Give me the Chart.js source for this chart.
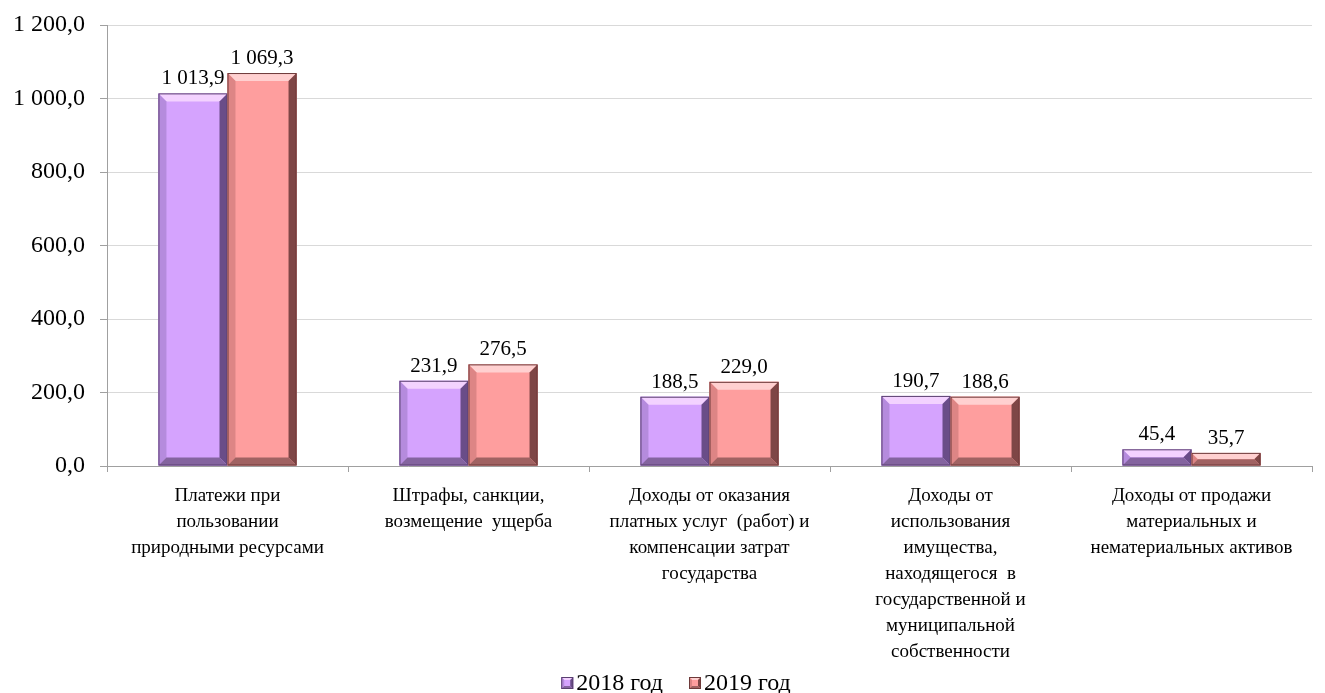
<!DOCTYPE html>
<html><head><meta charset="utf-8">
<script src="https://cdn.jsdelivr.net/npm/chart.js@4.4.0/dist/chart.umd.min.js"></script>
<style>html,body{margin:0;padding:0;background:#fff;}#wrap{width:1325px;height:693px;position:relative;}</style>
</head><body><div id="wrap"><canvas id="c" width="1325" height="693"></canvas></div>
<script>
const categories = [
  ["Платежи при", "пользовании", "природными ресурсами"],
  ["Штрафы, санкции,", "возмещение  ущерба"],
  ["Доходы от оказания", "платных услуг  (работ) и", "компенсации затрат", "государства"],
  ["Доходы от", "использования", "имущества,", "находящегося  в", "государственной и", "муниципальной", "собственности"],
  ["Доходы от продажи", "материальных и", "нематериальных активов"]
];
const seriesNames = ["2018 год", "2019 год"];
const values2018 = [1013.9, 231.9, 188.5, 190.7, 45.4];
const values2019 = [1069.3, 276.5, 229.0, 188.6, 35.7];
const yTicks = [0, 200, 400, 600, 800, 1000, 1200];

const FONT = "'Liberation Serif', 'Times New Roman', serif";
const faces = ["#D5A3FE", "#FE9E9E"];
const bevels = [
  {top:"#F3D2FF", left:"#B58BDD", right:"#6A4D88", bottom:"#84649F", edge:"#5A4070"},
  {top:"#FFD0D0", left:"#DD8585", right:"#7E4646", bottom:"#A06262", edge:"#6E3A3A"}
];

function fmt(v){
  const s = v.toFixed(1).split(".");
  const intp = s[0].replace(/\B(?=(\d{3})+(?!\d))/g, " ");
  return intp + "," + s[1];
}

function bevelRect(ctx, l, t, w, h, bc, face, bwMax){
  const r = l + w, b = t + h;
  const bw = Math.min(bwMax, h/2, w/2);
  ctx.save();
  ctx.fillStyle = face; ctx.fillRect(l, t, w, h);
  ctx.fillStyle = bc.top;
  ctx.beginPath(); ctx.moveTo(l,t); ctx.lineTo(r,t); ctx.lineTo(r-bw,t+bw); ctx.lineTo(l+bw,t+bw); ctx.closePath(); ctx.fill();
  ctx.fillStyle = bc.left;
  ctx.beginPath(); ctx.moveTo(l,t); ctx.lineTo(l+bw,t+bw); ctx.lineTo(l+bw,b-bw); ctx.lineTo(l,b); ctx.closePath(); ctx.fill();
  ctx.fillStyle = bc.right;
  ctx.beginPath(); ctx.moveTo(r,t); ctx.lineTo(r-bw,t+bw); ctx.lineTo(r-bw,b-bw); ctx.lineTo(r,b); ctx.closePath(); ctx.fill();
  ctx.fillStyle = bc.bottom;
  ctx.beginPath(); ctx.moveTo(l,b); ctx.lineTo(l+bw,b-bw); ctx.lineTo(r-bw,b-bw); ctx.lineTo(r,b); ctx.closePath(); ctx.fill();
  ctx.strokeStyle = bc.edge; ctx.lineWidth = 1;
  ctx.strokeRect(l+0.5, t+0.5, w-1, h-1);
  ctx.restore();
}

const bevelPlugin = {
  id: "bevel",
  afterDatasetsDraw(chart){
    const ctx = chart.ctx;
    chart.data.datasets.forEach((ds, di) => {
      const meta = chart.getDatasetMeta(di);
      meta.data.forEach(el => {
        const p = el.getProps(["x","y","base","width"], true);
        bevelRect(ctx, p.x - p.width/2, p.y, p.width, p.base - p.y, bevels[di], faces[di], 8);
      });
    });
  },
  afterDraw(chart){
    const ctx = chart.ctx;
    ctx.save();
    ctx.font = "21px " + FONT;
    ctx.fillStyle = "#000";
    ctx.textAlign = "center";
    ctx.textBaseline = "alphabetic";
    chart.data.datasets.forEach((ds, di) => {
      const meta = chart.getDatasetMeta(di);
      meta.data.forEach((el, i) => {
        const p = el.getProps(["x","y"], true);
        ctx.fillText(fmt(ds.data[i]), p.x, p.y - 9);
      });
    });
    // legend
    ctx.font = "24px " + FONT;
    ctx.textAlign = "left";
    ctx.textBaseline = "middle";
    const box = 12, gapBox = 3, gapItem = 26;
    const widths = chart.data.datasets.map(d => ctx.measureText(d.label).width);
    const total = widths.reduce((a, w) => a + box + gapBox + w, 0) + gapItem * (widths.length - 1);
    let x = 676 - total / 2;
    const cy = 683;
    chart.data.datasets.forEach((d, i) => {
      bevelRect(ctx, x, cy - box/2, box, box, bevels[i], faces[i], 3);
      x += box + gapBox;
      ctx.fillStyle = "#000";
      ctx.fillText(d.label, x, cy + 1);
      x += widths[i] + gapItem;
    });
    ctx.restore();
  }
};

new Chart(document.getElementById("c"), {
  type: "bar",
  data: {
    labels: categories,
    datasets: [
      {label: seriesNames[0], data: values2018, backgroundColor: faces[0], borderWidth: 0},
      {label: seriesNames[1], data: values2019, backgroundColor: faces[1], borderWidth: 0}
    ]
  },
  options: {
    responsive: false,
    animation: false,
    devicePixelRatio: 1,
    layout: {padding: {top: 25, right: 13, left: 0, bottom: 0}},
    datasets: {bar: {categoryPercentage: 0.573, barPercentage: 1.0}},
    plugins: {
      legend: {display: false},
      tooltip: {enabled: false}
    },
    scales: {
      y: {
        min: 0, max: 1200,
        afterBuildTicks(s){ s.ticks = yTicks.map(v => ({value: v})); },
        afterFit(s){ s.width = 107; s.paddingTop = 0; },
        ticks: {
          font: {family: FONT, size: 24}, color: "#000", padding: 15,
          callback: v => fmt(v)
        },
        grid: {color: "#D9D9D9", tickLength: 7, tickColor: "#A0A0A0", lineWidth: 1},
        border: {color: "#A0A0A0"}
      },
      x: {
        afterFit(s){ s.height = 227; },
        ticks: {font: {family: FONT, size: 19, lineHeight: 1.37}, color: "#000", padding: 11, maxRotation: 0, autoSkip: false},
        grid: {drawOnChartArea: false, offset: true, tickLength: 6, color: "#A0A0A0"},
        border: {color: "#A0A0A0"}
      }
    }
  },
  plugins: [bevelPlugin]
});
</script></body></html>
